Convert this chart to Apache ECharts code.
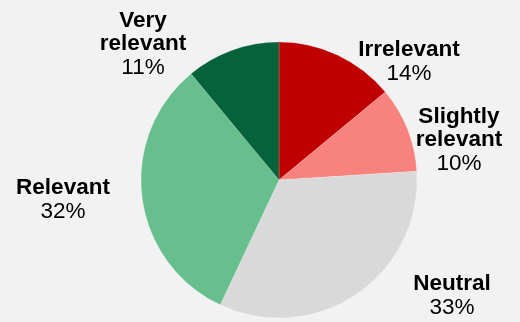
<!DOCTYPE html>
<html>
<head>
<meta charset="utf-8">
<script src="https://cdn.jsdelivr.net/npm/echarts@6/dist/echarts.min.js"></script>
<style>
html, body { margin: 0; padding: 0; background: #f2f2f2; }
#chart { width: 520px; height: 322px; }
</style>
</head>
<body>
<div id="chart"></div>
<script>
// data, clockwise from 12 o'clock
var names = ['Irrelevant', 'Slightly\nrelevant', 'Neutral', 'Relevant', 'Very\nrelevant'];
var shares = [14, 10, 33, 32, 11];
var colors = ['#c00000', '#f8837e', '#d9d9d9', '#66bf8c', '#05623a'];

// label anchor points (Excel style placement)
var labelPos = [[409, 62], [459, 140], [452, 296], [63, 200], [143, 44]];

var myChart = echarts.init(document.getElementById('chart'));

var option = {
	backgroundColor : '#f2f2f2',
	animation : false,
	series : [ {
		type : 'pie',
		center : [ 279, 180 ],
		radius : 138,
		startAngle : 90,
		clockwise : true,
		data : names.map(function(n, i) {
			return { name : n, value : shares[i], itemStyle : { color : colors[i] } };
		}),
		itemStyle : {
			borderColor : 'rgba(255,255,255,0.35)',
			borderWidth : 0.5
		},
		label : {
			show : true,
			position : 'outside',
			overflow : 'none',
			width : 200,
			formatter : function(p) {
				var lines = p.name.split('\n').map(function(s) { return '{b|' + s + '}'; });
				return lines.join('\n') + '\n{n|' + p.value + '%}';
			},
			rich : {
				b : { fontFamily : 'Liberation Sans', fontWeight : 'bold', fontSize : 22.5, lineHeight : 23.5, color : '#000', align : 'center' },
				n : { fontFamily : 'Liberation Sans', fontSize : 22.5, lineHeight : 23.5, color : '#000', align : 'center' }
			}
		},
		labelLine : { show : false },
		labelLayout : function(params) {
			var p = labelPos[params.dataIndex];
			return { x : p[0], y : p[1], align : 'center', verticalAlign : 'middle' };
		}
	} ]
};
myChart.setOption(option);
</script>
</body>
</html>
